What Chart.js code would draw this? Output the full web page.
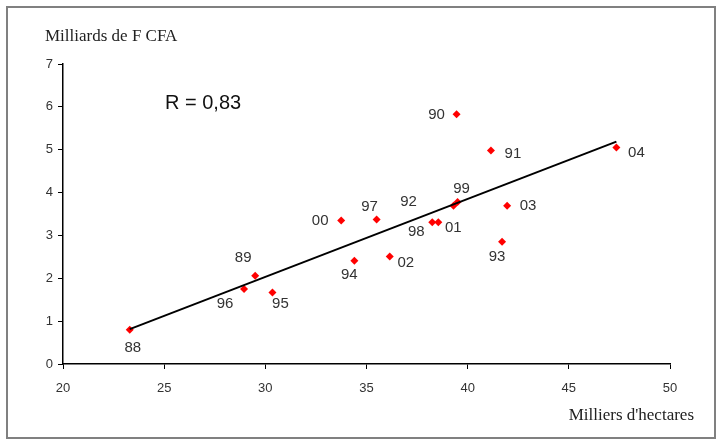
<!DOCTYPE html>
<html>
<head>
<meta charset="utf-8">
<script src="https://cdn.jsdelivr.net/npm/chart.js@4"></script>
<style>
  html, body { margin: 0; padding: 0; background: #fff; }
  #wrap { width: 721px; height: 443px; }
</style>
</head>
<body>
<div id="wrap"><canvas id="c" width="721" height="443"></canvas></div>
<script>
// années (étiquettes des points)
const years = ['88', '89', '90', '91', '92', '93', '94', '95', '96', '97', '98', '99', '00', '01', '02', '03', '04'];
// milliers d'hectares
const hectares = [23.3, 29.5, 39.45, 41.15, 39.3, 41.7, 34.4, 30.35, 28.95, 35.5, 38.25, 39.5, 33.75, 38.55, 36.15, 41.95, 47.35];
// milliards de F CFA
const valeurs = [0.8, 2.06, 5.83, 4.98, 3.69, 2.85, 2.41, 1.67, 1.75, 3.37, 3.31, 3.78, 3.35, 3.31, 2.51, 3.69, 5.05];

const xTicks = [20, 25, 30, 35, 40, 45, 50];
const yTicks = [0, 1, 2, 3, 4, 5, 6, 7];

// droite de régression (moindres carrés)
const n = hectares.length;
const mx = hectares.reduce((a, b) => a + b, 0) / n;
const my = valeurs.reduce((a, b) => a + b, 0) / n;
let sxy = 0, sxx = 0;
for (let i = 0; i < n; i++) {
    sxy += (hectares[i] - mx) * (valeurs[i] - my);
    sxx += (hectares[i] - mx) * (hectares[i] - mx);
}
const slope = sxy / sxx;
const xmin = Math.min(...hectares), xmax = Math.max(...hectares);
const trend = [
    {x: xmin, y: my + slope * (xmin - mx)},
    {x: xmax, y: my + slope * (xmax - mx)}
];

// décalage des étiquettes en pixels (dx, dy du centre du texte)
const labelOffset = {
    '88': [3, 18], '89': [-12, -18], '90': [-20, 1], '91': [22, 3], '92': [-45, -4],
    '93': [-5, 15], '94': [-5, 14], '95': [8, 11], '96': [-19, 15], '97': [-7, -13],
    '98': [-16, 10], '99': [4, -13], '00': [-21, 0], '01': [15, 6], '02': [16, 6],
    '03': [21, 0], '04': [20, 5]
};

const decoPlugin = {
    id: 'deco',
    beforeDraw(chart) {
        const ctx = chart.ctx;
        ctx.save();
        ctx.fillStyle = '#fff';
        ctx.fillRect(0, 0, chart.width, chart.height);
        ctx.strokeStyle = '#808080';
        ctx.lineWidth = 2;
        ctx.strokeRect(7, 7, 708, 431);
        ctx.restore();
    },
    afterDraw(chart) {
        const ctx = chart.ctx;
        ctx.save();
        ctx.fillStyle = '#222';
        ctx.font = '17px "Liberation Serif", "Times New Roman", serif';
        ctx.textBaseline = 'middle';
        ctx.textAlign = 'left';
        ctx.fillText('Milliards de F CFA', 45, 37);
        ctx.textAlign = 'right';
        ctx.fillText("Milliers d'hectares", 694, 416);
        ctx.fillStyle = '#111';
        ctx.font = '20px "Liberation Sans", Arial, sans-serif';
        ctx.textAlign = 'left';
        ctx.fillText('R = 0,83', 165, 103);

        // étiquettes des années
        const meta = chart.getDatasetMeta(1);
        ctx.fillStyle = '#333';
        ctx.font = '15px "Liberation Sans", Arial, sans-serif';
        ctx.textAlign = 'center';
        meta.data.forEach((pt, i) => {
            const off = labelOffset[years[i]] || [0, 0];
            ctx.fillText(years[i], pt.x + off[0], pt.y + off[1]);
        });
        ctx.restore();
    }
};

const tickFont = {family: '"Liberation Sans", Arial, sans-serif', size: 13};

new Chart(document.getElementById('c'), {
    type: 'scatter',
    data: {
        datasets: [
            {
                type: 'line',
                data: trend,
                borderColor: '#000',
                borderWidth: 2,
                pointRadius: 0,
                fill: false
            },
            {
                data: hectares.map((h, i) => ({x: h, y: valeurs[i]})),
                pointStyle: 'rectRot',
                pointRadius: 4,
                pointBackgroundColor: '#ff0000',
                pointBorderColor: '#ff0000',
                pointBorderWidth: 0
            }
        ]
    },
    options: {
        responsive: false,
        animation: false,
        layout: {padding: {left: 0, top: 64, right: 51, bottom: 0}},
        plugins: {legend: {display: false}, tooltip: {enabled: false}},
        scales: {
            x: {
                type: 'linear',
                min: 20,
                max: 50,
                afterBuildTicks: s => { s.ticks = xTicks.map(v => ({value: v})); },
                afterFit: s => { s.height = 79; },
                grid: {drawOnChartArea: false, drawTicks: true, tickLength: 5, color: '#000'},
                border: {display: true, color: '#000', width: 1.5},
                ticks: {font: tickFont, color: '#333', padding: 12, maxRotation: 0}
            },
            y: {
                min: 0,
                max: 7,
                afterBuildTicks: s => { s.ticks = yTicks.map(v => ({value: v})); },
                afterFit: s => { s.width = 63; },
                grid: {drawOnChartArea: false, drawTicks: true, tickLength: 5, color: '#000'},
                border: {display: true, color: '#000', width: 1.5},
                ticks: {font: tickFont, color: '#333', padding: 5}
            }
        }
    },
    plugins: [decoPlugin]
});
</script>
</body>
</html>
